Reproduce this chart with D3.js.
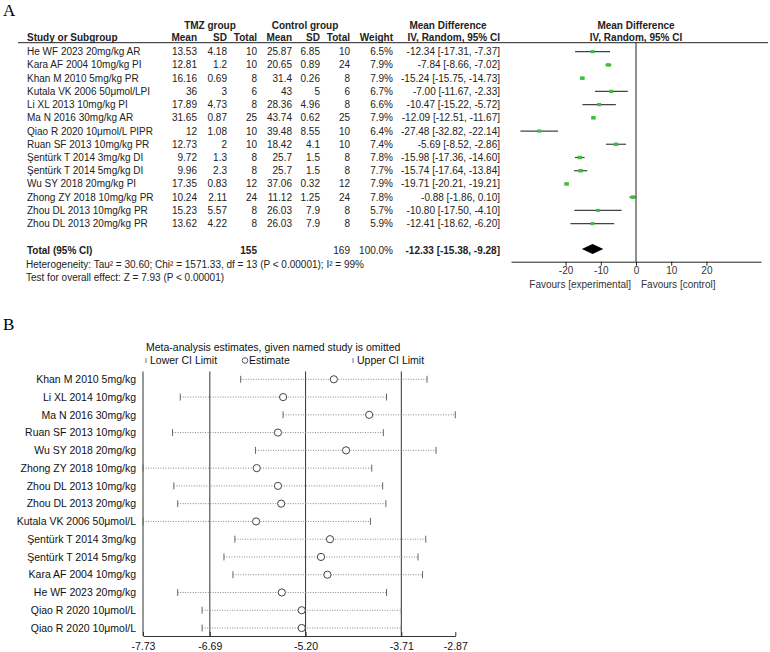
<!DOCTYPE html>
<html>
<head>
<meta charset="utf-8">
<script src="https://cdn.jsdelivr.net/npm/d3@7"></script>
<style>
  body { margin: 0; background: #fff; }
  svg { display: block; font-family: Arial, "Liberation Sans", sans-serif; }
</style>
</head>
<body>
<div id="chart"></div>
<script>
// ---- panel A data ----
const studies = ["He WF 2023 20mg/kg AR", "Kara AF 2004 10mg/kg PI", "Khan M 2010 5mg/kg PR", "Kutala VK 2006 50μmol/LPI",
    "Li XL 2013 10mg/kg PI", "Ma N 2016 30mg/kg AR", "Qiao R 2020 10μmol/L PIPR", "Ruan SF 2013 10mg/kg PR",
    "Şentürk T 2014 3mg/kg DI", "Şentürk T 2014 5mg/kg DI", "Wu SY 2018 20mg/kg PI", "Zhong ZY 2018 10mg/kg PR",
    "Zhou DL 2013 10mg/kg PR", "Zhou DL 2013 20mg/kg PR"];
const tmzMean = ["13.53", "12.81", "16.16", "36", "17.89", "31.65", "12", "12.73", "9.72", "9.96", "17.35", "10.24", "15.23", "13.62"];
const tmzSD = ["4.18", "1.2", "0.69", "3", "4.73", "0.87", "1.08", "2", "1.3", "2.3", "0.83", "2.11", "5.57", "4.22"];
const tmzN = [10, 10, 8, 6, 8, 25, 10, 10, 8, 8, 12, 24, 8, 8];
const ctlMean = ["25.87", "20.65", "31.4", "43", "28.36", "43.74", "39.48", "18.42", "25.7", "25.7", "37.06", "11.12", "26.03", "26.03"];
const ctlSD = ["6.85", "0.89", "0.26", "5", "4.96", "0.62", "8.55", "4.1", "1.5", "1.5", "0.32", "1.25", "7.9", "7.9"];
const ctlN = [10, 24, 8, 6, 8, 25, 10, 10, 8, 8, 12, 24, 8, 8];
const weight = [6.5, 7.9, 7.9, 6.7, 6.6, 7.9, 6.4, 7.4, 7.8, 7.7, 7.9, 7.8, 5.7, 5.9];
const md = [-12.34, -7.84, -15.24, -7.00, -10.47, -12.09, -27.48, -5.69, -15.98, -15.74, -19.71, -0.88, -10.80, -12.41];
const mdLo = [-17.31, -8.66, -15.75, -11.67, -15.22, -12.51, -32.82, -8.52, -17.36, -17.64, -20.21, -1.86, -17.50, -18.62];
const mdHi = [-7.37, -7.02, -14.73, -2.33, -5.72, -11.67, -22.14, -2.86, -14.60, -13.84, -19.21, 0.10, -4.10, -6.20];
const total = { tmz: 155, ctl: 169, md: -12.33, lo: -15.38, hi: -9.28 };
const forestTicks = [-20, -10, 0, 10, 20];

// ---- panel B data ----
const omitted = ["Khan M 2010 5mg/kg", "Li XL 2014 10mg/kg", "Ma N 2016 30mg/kg", "Ruan SF 2013 10mg/kg", "Wu SY 2018 20mg/kg",
    "Zhong ZY 2018 10mg/kg", "Zhou DL 2013 10mg/kg", "Zhou DL 2013 20mg/kg", "Kutala VK 2006 50μmol/L",
    "Şentürk T 2014 3mg/kg", "Şentürk T 2014 5mg/kg", "Kara AF 2004 10mg/kg", "He WF 2023 20mg/kg",
    "Qiao R 2020 10μmol/L", "Qiao R 2020 10μmol/L"];
const estLower = [-6.21, -7.15, -5.55, -7.27, -5.98, -7.73, -7.25, -7.19, -7.73, -6.30, -6.47, -6.33, -7.19, -6.81, -6.81];
const estimate = [-4.76, -5.55, -4.21, -5.63, -4.57, -5.96, -5.63, -5.58, -5.97, -4.82, -4.96, -4.86, -5.57, -5.26, -5.26];
const estUpper = [-3.31, -3.94, -2.87, -3.99, -3.17, -4.17, -4.00, -3.95, -4.19, -3.33, -3.45, -3.38, -3.94, -3.71, -3.71];
const sensTicks = [-7.73, -6.69, -5.20, -3.71, -2.87];
const refLines = [-7.73, -6.69, -5.20, -3.71];

const width = 770, height = 652;
const svg = d3.select("#chart").append("svg").attr("width", width).attr("height", height);

// d3.format uses U+2212 for minus; the original uses a plain hyphen
const hy = s => String(s).replace(/\u2212/g, "-");
const f2 = v => hy(d3.format(".2f")(v));
const ci = (m, l, h) => `${f2(m)} [${f2(l)}, ${f2(h)}]`;

// ================= Panel A =================
svg.append("text").attr("x", 3).attr("y", 16).attr("font-family", "'Liberation Serif', 'DejaVu Serif', serif")
    .attr("font-size", 17).text("A");

const gA = svg.append("g").attr("font-size", 10).attr("fill", "#222");
const rowY = d3.scaleLinear().domain([0, studies.length - 1]).range([51.7, 223.6]);

// column right edges
const cols = [
    { x: 197, vals: tmzMean, head: "Mean" },
    { x: 227, vals: tmzSD, head: "SD" },
    { x: 257, vals: tmzN, head: "Total" },
    { x: 292, vals: ctlMean, head: "Mean" },
    { x: 320, vals: ctlSD, head: "SD" },
    { x: 350, vals: ctlN, head: "Total" },
    { x: 393, vals: weight.map(w => w.toFixed(1) + "%"), head: "Weight" },
    { x: 500, vals: md.map((m, i) => ci(m, mdLo[i], mdHi[i])), head: "IV, Random, 95% CI" }
];

// group headers
const groupHeads = [
    { x: 210, t: "TMZ group" }, { x: 305, t: "Control group" },
    { x: 448, t: "Mean Difference" }, { x: 636, t: "Mean Difference" }
];
gA.selectAll("text.gh").data(groupHeads).enter().append("text")
    .attr("x", d => d.x).attr("y", 25).attr("dy", "0.35em").attr("text-anchor", "middle")
    .attr("font-weight", "bold").text(d => d.t);

gA.append("text").attr("x", 27).attr("y", 37.5).attr("dy", "0.35em").attr("font-weight", "bold").text("Study or Subgroup");
gA.selectAll("text.ch").data(cols).enter().append("text")
    .attr("x", d => d.x).attr("y", 37.5).attr("dy", "0.35em").attr("text-anchor", "end")
    .attr("font-weight", "bold").text(d => d.head);
gA.append("text").attr("x", 636).attr("y", 37.5).attr("dy", "0.35em").attr("text-anchor", "middle")
    .attr("font-weight", "bold").text("IV, Random, 95% CI");

svg.append("line").attr("x1", 18).attr("x2", 768).attr("y1", 42.7).attr("y2", 42.7)
    .attr("stroke", "#222").attr("stroke-width", 1);

// study names
gA.selectAll("text.st").data(studies).enter().append("text")
    .attr("x", 27).attr("y", (d, i) => rowY(i)).attr("dy", "0.35em").text(d => d);

cols.forEach(c => {
    gA.selectAll(null).data(c.vals).enter().append("text")
        .attr("x", c.x).attr("y", (d, i) => rowY(i)).attr("dy", "0.35em").attr("text-anchor", "end").text(d => d);
});

// total row
const totalY = 250;
gA.append("text").attr("x", 27).attr("y", totalY).attr("dy", "0.35em").attr("font-weight", "bold").text("Total (95% CI)");
const totals = [
    { x: 257, t: total.tmz, b: true }, { x: 350, t: total.ctl, b: false },
    { x: 393, t: "100.0%", b: false }, { x: 500, t: ci(total.md, total.lo, total.hi), b: true }
];
gA.selectAll("text.tot").data(totals).enter().append("text")
    .attr("x", d => d.x).attr("y", totalY).attr("dy", "0.35em").attr("text-anchor", "end")
    .attr("font-weight", d => d.b ? "bold" : "normal").text(d => d.t);

gA.append("text").attr("x", 26).attr("y", 264.3).attr("dy", "0.35em")
    .text("Heterogeneity: Tau² = 30.60; Chi² = 1571.33, df = 13 (P < 0.00001); I² = 99%");
gA.append("text").attr("x", 26).attr("y", 277.3).attr("dy", "0.35em")
    .text("Test for overall effect: Z = 7.93 (P < 0.00001)");

// forest plot
const fx = d3.scaleLinear().domain([-35.5, 35.5]).range([511, 761]);
const axisY = 261.7;
const sq = d3.scaleSqrt().domain([0, 8]).range([0, 4.6]);

svg.append("line").attr("x1", fx(0)).attr("x2", fx(0)).attr("y1", 42.7).attr("y2", axisY)
    .attr("stroke", "#222");

svg.selectAll("line.ci").data(md).enter().append("line")
    .attr("x1", (d, i) => fx(mdLo[i])).attr("x2", (d, i) => fx(mdHi[i]))
    .attr("y1", (d, i) => rowY(i)).attr("y2", (d, i) => rowY(i))
    .attr("stroke", "#444").attr("stroke-width", 1.2);

svg.selectAll("rect.pt").data(md).enter().append("rect")
    .attr("x", (d, i) => fx(d) - sq(weight[i]) / 2).attr("y", (d, i) => rowY(i) - sq(weight[i]) / 2.6)
    .attr("width", (d, i) => sq(weight[i])).attr("height", (d, i) => sq(weight[i]) / 1.3)
    .attr("fill", "#3cbf3c");

const dh = 5;
svg.append("path")
    .attr("d", `M${fx(total.lo)},${totalY - 1} L${fx(total.md)},${totalY - 1 - dh} L${fx(total.hi)},${totalY - 1} L${fx(total.md)},${totalY - 1 + dh} Z`)
    .attr("fill", "#000");

const axA = svg.append("g").attr("transform", `translate(0,${axisY})`)
    .call(d3.axisBottom(fx).tickValues(forestTicks).tickFormat(d => hy(d)).tickSize(4).tickSizeOuter(0));
axA.select(".domain").attr("stroke", "#222");
axA.selectAll(".tick line").attr("stroke", "#222");
axA.selectAll(".tick text").attr("font-size", 10).attr("fill", "#333").attr("font-family", "Arial, 'Liberation Sans', sans-serif").attr("dy", "0.55em");

svg.append("text").attr("x", 631).attr("y", 284.3).attr("dy", "0.35em").attr("text-anchor", "end")
    .attr("font-size", 10).attr("fill", "#333").text("Favours [experimental]");
svg.append("text").attr("x", 641).attr("y", 284.3).attr("dy", "0.35em")
    .attr("font-size", 10).attr("fill", "#333").text("Favours [control]");

// ================= Panel B =================
svg.append("text").attr("x", 3).attr("y", 330).attr("font-family", "'Liberation Serif', 'DejaVu Serif', serif")
    .attr("font-size", 17).text("B");

const bx = d3.scaleLinear().domain([-7.73, -2.87]).range([143, 455.3]);
const by = d3.scaleLinear().domain([0, omitted.length - 1]).range([379.3, 628]);
const bAxisY = 636;
const gB = svg.append("g").attr("font-size", 10.5).attr("fill", "#111");

gB.append("text").attr("x", 146).attr("y", 347).attr("dy", "0.35em")
    .text("Meta-analysis estimates, given named study is omitted");

// legend
gB.append("line").attr("x1", 146).attr("x2", 146).attr("y1", 358).attr("y2", 363).attr("stroke", "#777");
gB.append("text").attr("x", 150).attr("y", 360.5).attr("dy", "0.35em").text("Lower CI Limit");
gB.append("circle").attr("cx", 245).attr("cy", 360.5).attr("r", 2.8).attr("fill", "none").attr("stroke", "#555");
gB.append("text").attr("x", 249).attr("y", 360.5).attr("dy", "0.35em").text("Estimate");
gB.append("line").attr("x1", 353).attr("x2", 353).attr("y1", 358).attr("y2", 363).attr("stroke", "#777");
gB.append("text").attr("x", 357).attr("y", 360.5).attr("dy", "0.35em").text("Upper CI Limit");

// reference lines
svg.selectAll("line.ref").data(refLines).enter().append("line")
    .attr("x1", d => bx(d)).attr("x2", d => bx(d)).attr("y1", 371.5).attr("y2", bAxisY)
    .attr("stroke", "#333");

// dotted CI lines
svg.selectAll("line.sci").data(estimate).enter().append("line")
    .attr("x1", (d, i) => bx(estLower[i])).attr("x2", (d, i) => bx(estUpper[i]))
    .attr("y1", (d, i) => by(i)).attr("y2", (d, i) => by(i))
    .attr("stroke", "#888").attr("stroke-dasharray", "1,1.5");

[estLower, estUpper].forEach(arr => {
    svg.selectAll(null).data(arr).enter().append("line")
        .attr("x1", d => bx(d)).attr("x2", d => bx(d))
        .attr("y1", (d, i) => by(i) - 3.5).attr("y2", (d, i) => by(i) + 3.5)
        .attr("stroke", "#666");
});

svg.selectAll("circle.est").data(estimate).enter().append("circle")
    .attr("cx", d => bx(d)).attr("cy", (d, i) => by(i)).attr("r", 3.6)
    .attr("fill", "#fff").attr("stroke", "#444").attr("stroke-width", 1);

gB.selectAll("text.lab").data(omitted).enter().append("text")
    .attr("x", 136).attr("y", (d, i) => by(i)).attr("dy", "0.35em").attr("text-anchor", "end").text(d => d);

const axB = svg.append("g").attr("transform", `translate(0,${bAxisY})`)
    .call(d3.axisBottom(bx).tickValues(sensTicks).tickFormat(f2).tickSize(-4).tickSizeOuter(0));
axB.select(".domain").attr("stroke", "#333");
axB.selectAll(".tick line").attr("stroke", "#333");
axB.selectAll(".tick text").attr("font-size", 10.5).attr("fill", "#111")
    .attr("font-family", "Arial, 'Liberation Sans', sans-serif").attr("y", 6).attr("dy", "0.75em");
</script>
</body>
</html>
